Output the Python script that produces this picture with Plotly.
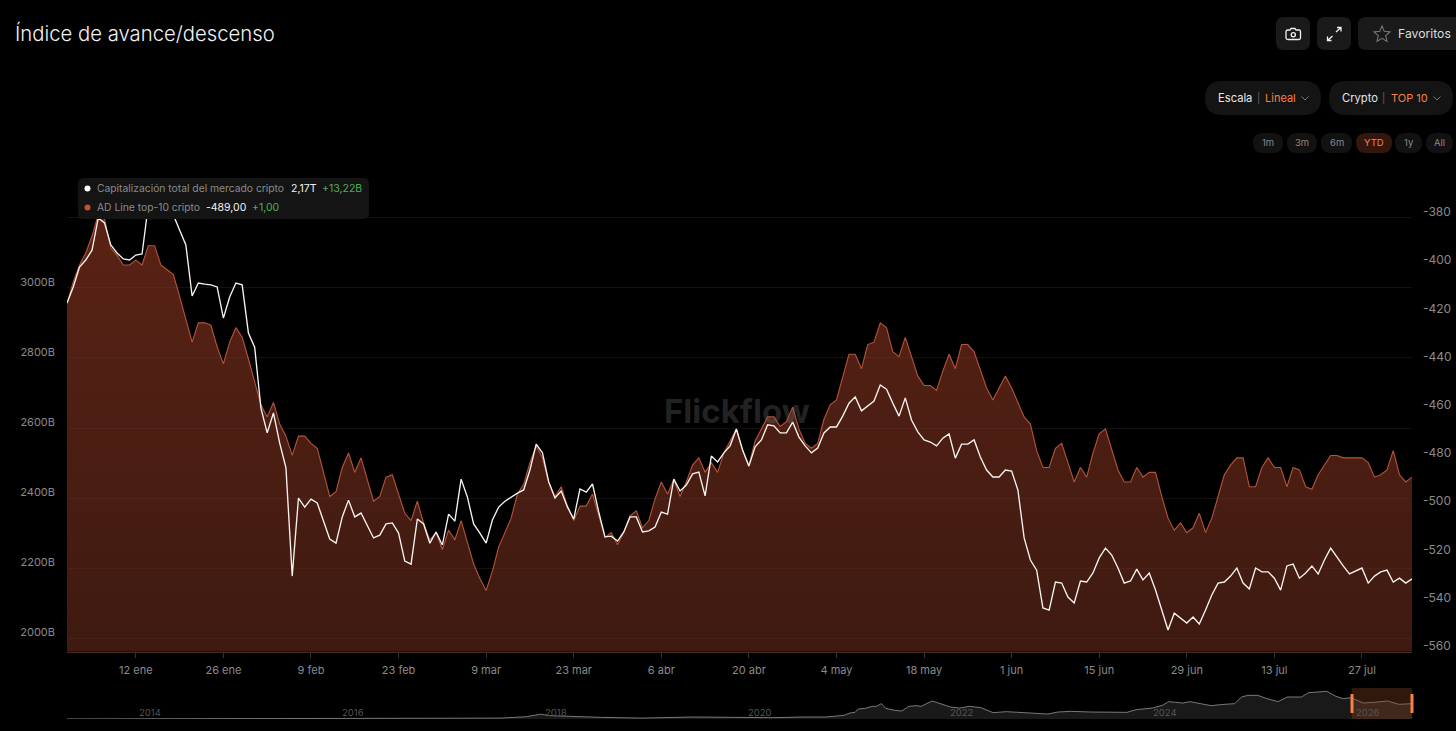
import math

import pandas as pd
import plotly.graph_objects as go

# ── Data ──────────────────────────────────────────────────────
START_DATE = "2026-01-01"

AD_LINE = [
    -418, -409, -402, -397, -390, -381, -383, -395, -398, -402, -402, -400, -402, -394, -394, -402, -404, -406,
    -415, -424, -434, -426, -426, -427, -436, -443, -434, -428, -432, -441, -450, -460, -465, -459, -468, -473,
    -481, -473, -473, -476, -478, -488, -498, -496, -486, -480, -488, -482, -491, -500, -498, -490, -489, -497,
    -505, -508, -500, -509, -516, -513, -520, -512, -516, -508, -517, -526, -532, -537, -529, -519, -513, -507,
    -497, -493, -484, -477, -482, -492, -498, -494, -502, -508, -502, -502, -497, -506, -515, -513, -518, -513,
    -506, -504, -511, -508, -499, -492, -497, -491, -498, -492, -485, -482, -488, -484, -488, -480, -475, -470,
    -479, -485, -475, -470, -465, -465, -469, -467, -461, -470, -476, -478, -476, -466, -460, -458, -448, -439,
    -439, -445, -435, -434, -426, -428, -438, -440, -432, -440, -448, -452, -452, -454, -446, -439, -445, -435,
    -435, -438, -446, -453, -458, -453, -448, -453, -459, -465, -468, -479, -486, -486, -478, -476, -484, -492,
    -486, -490, -480, -472, -470, -479, -487, -492, -492, -486, -490, -488, -488, -498, -507, -512, -509, -513,
    -511, -505, -513, -507, -498, -489, -485, -482, -482, -494, -494, -486, -482, -486, -486, -494, -486, -487,
    -494, -495, -489, -485, -481, -481, -482, -482, -482, -482, -484, -490, -489, -487, -479, -489, -492, -490,
]

MARKET_CAP = [
    2957, 3003, 3060, 3080, 3108, 3200, 3186, 3123, 3100, 3083, 3080, 3094, 3097, 3237, 3266, 3280, 3251, 3209,
    3166, 3123, 2977, 3014, 3011, 3009, 3003, 2914, 2974, 3014, 3009, 2871, 2831, 2657, 2586, 2643, 2557, 2486,
    2177, 2400, 2374, 2397, 2386, 2331, 2283, 2271, 2346, 2394, 2346, 2357, 2323, 2286, 2294, 2326, 2329, 2300,
    2220, 2211, 2340, 2326, 2271, 2303, 2266, 2354, 2334, 2454, 2403, 2326, 2300, 2271, 2337, 2374, 2391, 2403,
    2414, 2423, 2480, 2554, 2529, 2446, 2400, 2420, 2374, 2340, 2426, 2417, 2440, 2360, 2289, 2291, 2277, 2303,
    2346, 2346, 2303, 2306, 2317, 2360, 2354, 2454, 2420, 2437, 2469, 2474, 2406, 2520, 2503, 2529, 2549, 2597,
    2537, 2491, 2546, 2566, 2609, 2606, 2586, 2586, 2617, 2574, 2549, 2529, 2543, 2586, 2603, 2603, 2634, 2671,
    2689, 2649, 2663, 2677, 2723, 2711, 2671, 2634, 2686, 2623, 2589, 2566, 2560, 2549, 2571, 2583, 2514, 2554,
    2554, 2566, 2517, 2480, 2460, 2460, 2480, 2477, 2423, 2286, 2223, 2194, 2086, 2080, 2160, 2157, 2117, 2100,
    2163, 2160, 2186, 2229, 2257, 2237, 2200, 2157, 2163, 2197, 2166, 2186, 2137, 2080, 2023, 2071, 2057, 2043,
    2060, 2040, 2080, 2123, 2157, 2160, 2177, 2200, 2157, 2140, 2200, 2189, 2189, 2171, 2137, 2206, 2211, 2171,
    2186, 2206, 2183, 2223, 2257, 2231, 2206, 2183, 2191, 2200, 2157, 2177, 2189, 2194, 2160, 2171, 2157, 2169,
]

TICK_DATES = [
    "2026-01-12", "2026-01-26", "2026-02-09", "2026-02-23", "2026-03-09", "2026-03-23", "2026-04-06",
    "2026-04-20", "2026-05-04", "2026-05-18", "2026-06-01", "2026-06-15", "2026-06-29", "2026-07-13", "2026-07-27",
]
TICK_LABELS = [
    "12 ene", "26 ene", "9 feb", "23 feb", "9 mar", "23 mar", "6 abr",
    "20 abr", "4 may", "18 may", "1 jun", "15 jun", "29 jun", "13 jul", "27 jul",
]

CAP_TICKS = [2000, 2200, 2400, 2600, 2800, 3000, 3200]
CAP_LABELS = ["2000B", "2200B", "2400B", "2600B", "2800B", "3000B", ""]
AD_TICKS = [-380, -400, -420, -440, -460, -480, -500, -520, -540, -560]
AD_LABELS = ["-380", "-400", "-420", "-440", "-460", "-480", "-500", "-520", "-540", "-560"]

# overview strip along the bottom
NAV_YEAR = [
    2013.33, 2014.0, 2015.0, 2016.0, 2016.9, 2017.2, 2017.6, 2017.85, 2018.0, 2018.1, 2018.3, 2018.6, 2019.0,
    2019.5, 2019.85, 2020.03, 2020.30, 2020.58, 2020.81, 2020.99, 2021.05, 2021.10, 2021.13, 2021.20, 2021.27,
    2021.31, 2021.36, 2021.40, 2021.49, 2021.56, 2021.63, 2021.70, 2021.75, 2021.86, 2021.95, 2022.04, 2022.13,
    2022.23, 2022.34, 2022.46, 2022.59, 2022.78, 2023.00, 2023.10, 2023.23, 2023.42, 2023.65, 2023.78, 2023.87,
    2024.03, 2024.13, 2024.19, 2024.26, 2024.33, 2024.40, 2024.47, 2024.61, 2024.70, 2024.84, 2024.91, 2024.97,
    2025.07, 2025.16, 2025.27, 2025.36, 2025.50, 2025.57, 2025.66, 2025.75, 2025.84, 2025.91, 2025.99, 2026.11,
    2026.21, 2026.35, 2026.46, 2026.59,
]
NAV_CAP = [
    5, 10, 5, 8, 20, 30, 120, 300, 650, 450, 320, 220, 120,
    270, 230, 181, 181, 271, 271, 497, 814, 904, 1356, 1446, 1718,
    1718, 2079, 1446, 1175, 1085, 1718, 1808, 1718, 2441, 2079, 1627, 1492,
    1718, 1537, 859, 994, 814, 678, 949, 1040, 949, 904, 904, 1266,
    1492, 1853, 2350, 2260, 2170, 2350, 2170, 1808, 1944, 2079, 2983, 3209,
    3209, 2757, 2350, 2983, 2983, 3571, 3661, 3752, 3074, 2757, 2893, 2170,
    2260, 2441, 1989, 2079,
]
NAV_LABEL_YEARS = [2014, 2016, 2018, 2020, 2022, 2024, 2026]

# ── Style ─────────────────────────────────────────────────────
WIDTH, HEIGHT = 1456, 731
LEFT, RIGHT = 67, 1412
FONT = "Inter"
GREY = "#8a8a8a"
ORANGE = "#f5814a"
GREEN = "#4caf50"

shapes = []
notes = []


def paper_x(x):
    return (x - LEFT) / (RIGHT - LEFT)


def paper_y(y):
    return 1 - y / HEIGHT


def px(x, y):
    return f"{paper_x(x):.5f} {paper_y(y):.5f}"


def add_path(d, fill=None, line=None, width=1.2):
    shapes.append(dict(
        type="path", path=d, xref="paper", yref="paper", layer="above",
        fillcolor=fill or "rgba(0,0,0,0)",
        line=dict(color=line or "rgba(0,0,0,0)", width=width if line else 0),
    ))


def round_box(x0, y0, x1, y1, r, fill):
    add_path(
        f"M {px(x0 + r, y0)} L {px(x1 - r, y0)} Q {px(x1, y0)} {px(x1, y0 + r)} "
        f"L {px(x1, y1 - r)} Q {px(x1, y1)} {px(x1 - r, y1)} "
        f"L {px(x0 + r, y1)} Q {px(x0, y1)} {px(x0, y1 - r)} "
        f"L {px(x0, y0 + r)} Q {px(x0, y0)} {px(x0 + r, y0)} Z",
        fill=fill,
    )


def circle(cx, cy, r, fill=None, line=None, width=1.2):
    shapes.append(dict(
        type="circle", xref="paper", yref="paper", layer="above",
        x0=paper_x(cx - r), x1=paper_x(cx + r),
        y0=paper_y(cy + r), y1=paper_y(cy - r),
        fillcolor=fill or "rgba(0,0,0,0)",
        line=dict(color=line or "rgba(0,0,0,0)", width=width if line else 0),
    ))


def note(x, y, text, size=11, color=GREY, anchor="left", weight=None):
    font = dict(family=FONT, size=size, color=color)
    if weight:
        font["weight"] = weight
    notes.append(dict(
        x=paper_x(x), y=paper_y(y), xref="paper", yref="paper",
        text=text, showarrow=False, xanchor=anchor, yanchor="middle",
        borderpad=0, font=font,
    ))


def chevron(cx, cy):
    add_path(f"M {px(cx - 3.5, cy - 1.5)} L {px(cx, cy + 2)} L {px(cx + 3.5, cy - 1.5)}", line="#777777", width=1)


# ── Chart ─────────────────────────────────────────────────────
dates = pd.date_range(START_DATE, periods=len(AD_LINE))
AD_RANGE = [-562.4, -362.6]
CAP_RANGE = [1961, 3337]

fig = go.Figure()
fig.add_trace(go.Scatter(
    x=dates, y=[AD_RANGE[0]] * len(dates), yaxis="y", mode="lines",
    line=dict(width=0), hoverinfo="skip", showlegend=False,
))
fig.add_trace(go.Scatter(
    x=dates, y=AD_LINE, yaxis="y", mode="lines", fill="tonexty",
    fillgradient=dict(
        type="vertical",
        colorscale=[[0, "rgba(103,43,28,0.6)"], [1, "rgba(150,57,35,0.6)"]],
    ),
    line=dict(color="#b5543a", width=1.1),
    name="AD Line top-10 cripto", showlegend=False,
))
fig.add_trace(go.Scatter(
    x=dates, y=MARKET_CAP, yaxis="y2", mode="lines",
    line=dict(color="#f7f3f0", width=1.35),
    name="Capitalización total del mercado cripto", showlegend=False,
))
fig.add_trace(go.Scatter(
    x=NAV_YEAR, y=NAV_CAP, xaxis="x2", yaxis="y3", mode="lines", fill="tozeroy",
    fillcolor="#191919", line=dict(color="#858585", width=0.9),
    hoverinfo="skip", showlegend=False,
))

# selected window on the overview strip
shapes.append(dict(
    type="rect", xref="paper", yref="paper", x0=paper_x(1352), x1=paper_x(RIGHT),
    y0=paper_y(719), y1=paper_y(688), layer="above",
    fillcolor="rgba(140,70,35,0.35)", line=dict(width=0),
))
for edge in (1352, RIGHT):
    shapes.append(dict(
        type="line", xref="paper", yref="paper", x0=paper_x(edge), x1=paper_x(edge),
        y0=paper_y(713), y1=paper_y(694), layer="above",
        line=dict(color=ORANGE, width=3),
    ))
for year in NAV_LABEL_YEARS:
    notes.append(dict(
        x=year, y=paper_y(712), xref="x2", yref="paper", text=str(year),
        showarrow=False, xanchor="left", yanchor="middle", xshift=2,
        font=dict(family=FONT, size=9.5, color="#555555"),
    ))

# ── Page chrome ───────────────────────────────────────────────
note(14, 33, "Índice de avance/descenso", size=20.3, color="#f2f2f2", weight=300)

# top buttons
round_box(1276, 17, 1310, 50, 8, "#1a1a1a")
round_box(1317, 17, 1351, 50, 8, "#1a1a1a")
round_box(1358, 17, 1470, 50, 8, "#1a1a1a")
add_path(
    f"M {px(1288, 30)} L {px(1290, 30)} L {px(1291, 28.5)} L {px(1295, 28.5)} L {px(1296, 30)} L {px(1299, 30)} "
    f"Q {px(1300.5, 30)} {px(1300.5, 31.5)} L {px(1300.5, 38)} Q {px(1300.5, 39.5)} {px(1299, 39.5)} "
    f"L {px(1288, 39.5)} Q {px(1286, 39.5)} {px(1286, 38)} L {px(1286, 31.5)} Q {px(1286, 30)} {px(1288, 30)} Z",
    line="#f2f2f2", width=1.3,
)
circle(1293.3, 34.7, 2.1, line="#f2f2f2", width=1.3)
add_path(f"M {px(1336, 32)} L {px(1341, 27.5)} M {px(1337, 27.5)} L {px(1341, 27.5)} L {px(1341, 31.5)}", line="#f2f2f2", width=1.3)
add_path(f"M {px(1332.5, 36)} L {px(1327.5, 40.5)} M {px(1327.5, 36.5)} L {px(1327.5, 40.5)} L {px(1331.5, 40.5)}", line="#f2f2f2", width=1.3)
star = []
for k in range(10):
    rad = 8.5 if k % 2 == 0 else 3.9
    ang = -math.pi / 2 + k * math.pi / 5
    star.append(px(1382 + rad * math.cos(ang), 34.5 + rad * math.sin(ang)))
add_path("M " + " L ".join(star) + " Z", line="#777777", width=1.1)
note(1397, 33.5, "Favoritos", size=12.2, color="#dddddd")

# scale / crypto selectors
round_box(1205, 81, 1321, 115, 17, "#141414")
round_box(1329, 81, 1453, 115, 17, "#141414")
note(1217, 98, "Escala", size=11.2, color="#e6e6e6")
note(1256, 98, "|", size=10, color="#666666")
note(1264, 98, "Lineal", size=11, color=ORANGE)
chevron(1305, 98)
note(1341, 98, "Crypto", size=11.2, color="#e6e6e6")
note(1381, 98, "|", size=10, color="#666666")
note(1390, 98, "TOP 10", size=11, color=ORANGE)
chevron(1437, 98)

# time range pills
for x0, x1, label in [(1253, 1283, "1m"), (1287, 1317, "3m"), (1321, 1352, "6m"),
                      (1395, 1422, "1y"), (1426, 1453, "All")]:
    round_box(x0, 133, x1, 153, 10, "#121212")
    note((x0 + x1) / 2, 143, label, size=9.5, color=GREY, anchor="center")
round_box(1356, 133, 1392, 153, 10, "#33170e")
note(1374, 143, "YTD", size=9.5, color=ORANGE, anchor="center")

# fixed hover card
round_box(78, 178, 369, 219, 6, "#141414")
circle(87.5, 188.5, 3, fill="#ffffff")
circle(87.5, 207.5, 3, fill="#c9502f")
note(96, 188.5, "Capitalización total del mercado cripto", size=10.3, color=GREY)
note(290, 188.5, "2,17T", size=10.5, color="#f2f2f2")
note(321, 188.5, "+13,22B", size=10.5, color=GREEN)
note(96, 207.5, "AD Line top-10 cripto", size=10.3, color=GREY)
note(205, 207.5, "-489,00", size=10.5, color="#f2f2f2")
note(251, 207.5, "+1,00", size=10.5, color=GREEN)

note(737, 411, "Flickflow", size=33, color="rgba(110,110,110,0.33)", anchor="center", weight=700)

fig.update_layout(
    width=WIDTH, height=HEIGHT,
    margin=dict(l=LEFT, r=WIDTH - RIGHT, t=0, b=0, pad=0),
    paper_bgcolor="#000000", plot_bgcolor="#000000",
    font=dict(family=FONT, color=GREY, size=11),
    hovermode=False,
    shapes=shapes,
    annotations=notes,
    xaxis=dict(
        type="date", domain=[0, 1], anchor="y",
        range=[dates[0], dates[-1]],
        tickvals=TICK_DATES, ticktext=TICK_LABELS,
        ticks="outside", ticklen=5, tickcolor="#333333", tickwidth=1,
        tickfont=dict(size=11, color=GREY), ticklabelstandoff=3,
        showgrid=False, showline=True, linecolor="#4a2a20", linewidth=1, zeroline=False,
    ),
    yaxis=dict(
        domain=[1 - 651.7 / HEIGHT, 1 - 170 / HEIGHT], range=AD_RANGE, side="right",
        tickvals=AD_TICKS, ticktext=AD_LABELS, tickfont=dict(size=12, color=GREY),
        ticklabelstandoff=10, showgrid=False, zeroline=False, showline=False,
    ),
    yaxis2=dict(
        domain=[1 - 651.7 / HEIGHT, 1 - 170 / HEIGHT], range=CAP_RANGE, side="left",
        overlaying="y", anchor="x",
        tickvals=CAP_TICKS, ticktext=CAP_LABELS, tickfont=dict(size=11, color=GREY),
        ticklabelstandoff=11, ticklabelshift=-6,
        showgrid=True, gridcolor="#121212", gridwidth=1, zeroline=False, showline=False,
    ),
    xaxis2=dict(
        domain=[0, 1], anchor="y3", range=[2013.33, 2026.59], visible=False,
    ),
    yaxis3=dict(
        domain=[1 - 719 / HEIGHT, 1 - 688 / HEIGHT], anchor="x2", range=[0, 4204], visible=False,
    ),
)

fig.write_html(
    "out.html",
    config={"displayModeBar": False},
    post_script="document.body.style.margin='0';document.body.style.background='#000';document.body.style.overflow='hidden';",
)
